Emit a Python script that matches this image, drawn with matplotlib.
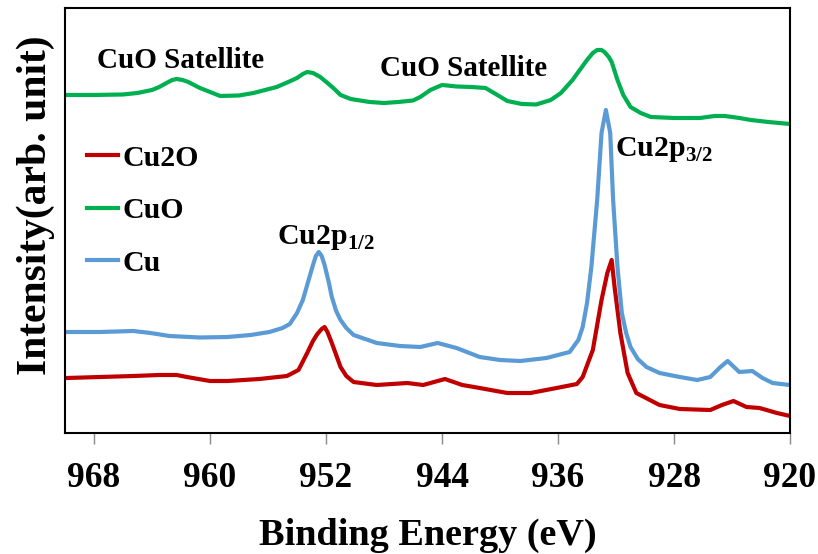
import matplotlib
matplotlib.use('Agg')
import matplotlib.pyplot as plt

# binding energy (eV) and intensity (arb. unit) for each spectrum
cu_e = [970.0, 969.9, 967.6, 965.3, 964.1, 962.8, 960.7, 958.8, 957.2, 955.9,
        955.0, 954.5, 954.0, 953.6, 953.3, 952.9, 952.7, 952.5, 952.3, 952.1,
        951.8, 951.6, 951.3, 951.0, 950.6, 950.1, 948.5, 946.9, 945.5, 944.3,
        943.0, 941.4, 940.0, 938.6, 936.8, 935.2, 934.6, 934.3, 934.0, 933.7,
        933.3, 933.0, 932.7, 932.4, 932.2, 931.9, 931.6, 931.3, 931.0, 930.5,
        929.9, 929.0, 927.6, 926.4, 925.5, 924.8, 924.3, 923.5, 922.6, 921.9,
        921.2, 920.0]
cu_i = [101, 101, 101, 102, 100, 97, 95.5, 96, 98, 101,
        105, 109, 120, 133, 148, 168, 177, 181, 177, 168,
        150, 136, 122, 113, 105, 98, 90, 87, 86, 90,
        85, 76, 73, 72, 75, 81, 93, 106, 130, 166,
        233, 300, 323, 300, 233, 166, 120, 100, 86, 74,
        66, 60, 56, 53, 56, 66, 72, 61, 62, 55,
        50, 48]

cuo_e = [970.0, 968.0, 966.0, 965.0, 964.0, 963.5, 963.0, 962.6, 962.3, 961.9,
         961.5, 960.7, 959.3, 958.0, 957.0, 955.4, 954.6, 954.0, 953.6, 953.3,
         952.9, 952.4, 951.9, 951.5, 951.0, 950.3, 949.0, 948.0, 947.0, 946.0,
         945.5, 944.8, 944.0, 943.0, 942.0, 941.0, 940.3, 939.5, 938.5, 937.5,
         936.5, 935.8, 935.0, 934.5, 934.0, 933.6, 933.3, 933.0, 932.8, 932.5,
         932.3, 931.9, 931.5, 931.0, 930.3, 929.6, 928.0, 926.2, 925.2, 924.5,
         923.5, 922.7, 921.5, 920.0]
cuo_i = [338, 338, 338.5, 340, 343, 346, 350, 353, 354, 353,
         351, 345, 337, 337.5, 340, 346, 351, 355, 359, 361,
         360, 356, 350, 345, 338, 334, 331, 330, 331, 332.5,
         336, 343, 348, 346.5, 346, 345, 339, 332, 329, 328.5,
         333, 340, 353, 363, 373, 380, 383, 383, 381, 376,
         371, 353, 338, 326, 320, 316, 315, 315, 317, 317,
         315, 313, 311, 309]

cu2o_e = [970.0, 969.9, 967.6, 965.3, 963.5, 962.3, 961.6, 960.0, 958.8, 956.6,
          954.7, 953.9, 953.3, 952.9, 952.6, 952.3, 952.1, 951.9, 951.6, 951.3,
          951.0, 950.6, 950.1, 948.5, 946.4, 945.3, 943.8, 942.6, 941.4, 939.5,
          937.9, 936.1, 934.7, 934.3, 933.6, 933.0, 932.6, 932.3, 932.1, 931.7,
          931.2, 930.6, 929.0, 927.6, 925.5, 924.7, 923.9, 923.0, 922.1, 920.9,
          920.0]
cu2o_i = [55, 55, 56, 57, 58, 58, 56, 52, 52, 54,
          57, 63, 80, 92, 99, 104, 106, 101, 90, 78,
          66, 57, 51, 48, 50, 48, 54, 48, 45, 40,
          40, 45, 49, 56, 83, 133, 160, 173, 146, 100,
          60, 40, 28, 24, 23, 28, 32, 26, 25, 20,
          17]

plt.rcParams['font.family'] = 'Liberation Serif'
plt.rcParams['font.weight'] = 'bold'
plt.rcParams['mathtext.fontset'] = 'custom'
plt.rcParams['mathtext.rm'] = 'Liberation Serif:bold'
plt.rcParams['mathtext.bf'] = 'Liberation Serif:bold'

fig = plt.figure(figsize=(8.18, 5.54), dpi=100)
ax = fig.add_axes([0.0795, 0.2184, 0.8863, 0.7672])

ax.plot(cu2o_e, cu2o_i, color='#C00000', lw=3, label='Cu2O', solid_joinstyle='round')
ax.plot(cuo_e, cuo_i, color='#00B050', lw=3, label='CuO', solid_joinstyle='round')
ax.plot(cu_e, cu_i, color='#5B9BD5', lw=3, label='Cu', solid_joinstyle='round')

ax.set_xlim(970, 920)
ax.set_ylim(0, 425)
ax.set_xticks([968, 960, 952, 944, 936, 928, 920])
ax.set_yticks([])
ax.tick_params(axis='x', direction='out', length=8, width=1, color='#888888',
               pad=13, labelsize=25.5)
for s in ax.spines.values():
    s.set_linewidth(1.5)

ax.set_xlabel('Binding Energy (eV)', fontsize=27.5, fontweight='bold')
ax.xaxis.set_label_coords(0.5, -0.24)
ax.xaxis.label.set_va('center')
ax.set_ylabel('Intensity(arb. unit)', fontsize=30, fontweight='bold')
ax.yaxis.set_label_coords(-0.041, 0.535)
ax.yaxis.label.set_va('center')

ax.text(962.0, 372, 'CuO Satellite', fontsize=21, ha='center', va='center')
ax.text(942.5, 364, 'CuO Satellite', fontsize=21, ha='center', va='center')
ax.text(952.0, 195, r'Cu2p$_{1/2}$', fontsize=21.5, ha='center', va='center')
ax.text(932.1, 283, r'Cu2p$_{3/2}$', fontsize=21.5, ha='left', va='center')

ax.legend(loc='upper left', bbox_to_anchor=(-0.011, 0.748), frameon=False,
          fontsize=21.5, handlelength=1.05, handletextpad=0.15,
          labelspacing=0.85, borderaxespad=0.6)

plt.savefig('out.png', dpi=100)
